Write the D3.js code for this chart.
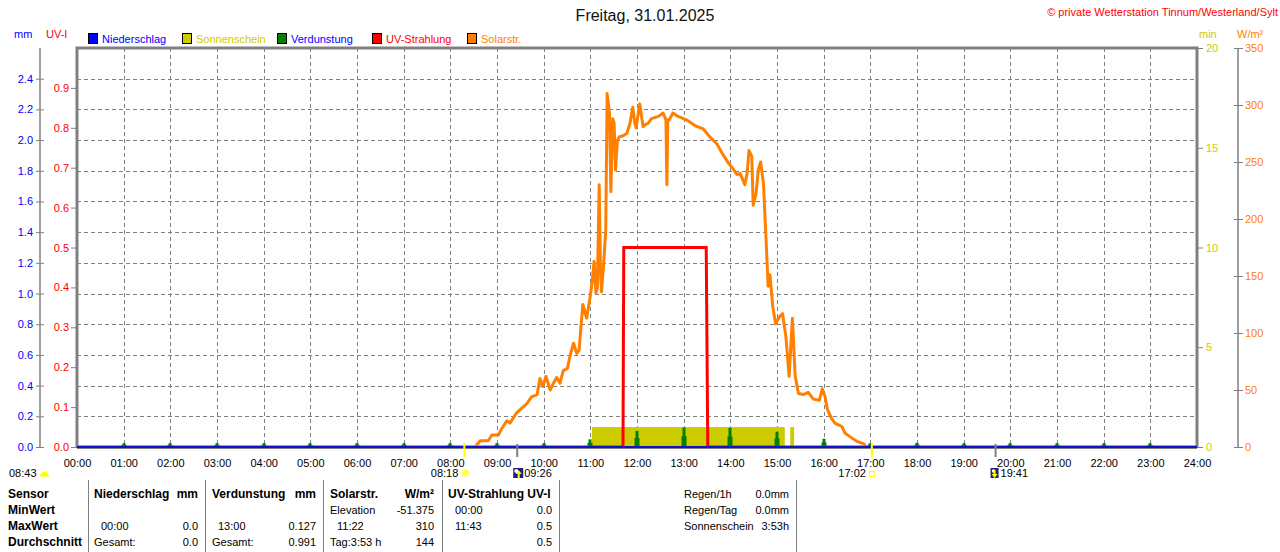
<!DOCTYPE html>
<html><head><meta charset="utf-8">
<script src="https://cdn.jsdelivr.net/npm/d3@7/dist/d3.min.js"></script>
<style>
body{margin:0;background:#fff;}
svg{display:block;font-family:"Liberation Sans",Arial,sans-serif;}
</style></head><body>
<svg id="c" width="1280" height="552"></svg>
<script>
// ---------- data ----------
const hourLabels = ["00:00","01:00","02:00","03:00","04:00","05:00","06:00","07:00","08:00","09:00","10:00","11:00","12:00","13:00","14:00","15:00","16:00","17:00","18:00","19:00","20:00","21:00","22:00","23:00","24:00"];
const mmTicks = [0.0,0.2,0.4,0.6,0.8,1.0,1.2,1.4,1.6,1.8,2.0,2.2,2.4];
const uvTicks = [0.0,0.1,0.2,0.3,0.4,0.5,0.6,0.7,0.8,0.9];
const minTicks = [0,5,10,15,20];
const wTicks = [0,50,100,150,200,250,300,350];

const rainTimes = ["00:00","24:00"];
const rainValues = [0.0,0.0];

const evapHours = [1,2,3,4,5,6,7,8,9,10,11,12,13,14,15,16,17,18,19,20,21,22,23];
const evapValues = [0.025,0.025,0.025,0.025,0.025,0.025,0.025,0.025,0.025,0.025,0.05,0.105,0.127,0.125,0.10,0.054,0.024,0.027,0.025,0.025,0.025,0.025,0.025];

const sunStart = ["11:02","15:17"];
const sunEnd = ["15:10","15:22"];
const sunValues = [1,1];

const uvTimes = ["00:00","11:42","11:43","13:29","13:30","13:31","24:00"];
const uvValues = [0,0,0.5,0.5,0.25,0,0];

const solarHours = [8.53,8.64,8.81,8.89,9.03,9.10,9.21,9.28,9.42,9.64,9.74,9.86,9.92,9.98,10.05,10.14,10.21,10.28,10.35,10.42,10.51,10.56,10.64,10.71,10.76,10.79,10.84,10.92,10.99,11.04,11.08,11.12,11.15,11.19,11.22,11.24,11.29,11.33,11.36,11.39,11.41,11.44,11.48,11.51,11.54,11.58,11.62,11.70,11.78,11.85,11.91,11.95,11.98,12.06,12.13,12.19,12.24,12.31,12.46,12.56,12.62,12.64,12.66,12.69,12.77,12.88,13.06,13.24,13.42,13.56,13.71,13.85,13.96,14.06,14.14,14.21,14.31,14.36,14.40,14.46,14.49,14.55,14.60,14.65,14.71,14.76,14.81,14.85,14.91,14.97,15.05,15.12,15.19,15.26,15.33,15.39,15.46,15.56,15.67,15.78,15.91,15.97,16.03,16.08,16.17,16.24,16.39,16.46,16.60,16.71,16.85,16.92];
const solarValues = [0,5.5,5.5,10.5,10.5,16,23,21,30,38,44,46,60,53,62,50,56,61,56,67,69,79,91,82,85,101,125,113,130,145,163,135,140,230,150,136,164,190,310,300,293,224,288,284,243,269,272,273,275,284,298,285,280,301,281,283,284,288,290,293,287,230,287,287,293,290,287,282,279,272,266,256,249,244,239,240,230,240,260,255,212,222,243,250,231,187,141,151,123,108,114,117,97,62,113,62,47,46,48,42,41,51,44,33,25,21,18,12,8,5,3,0];

const sunriseSet = ["08:18","17:02"];
const moonRiseSet = ["09:26","19:41"];
const dayLength = "08:43";

const tableRows = ["Sensor","MinWert","MaxWert","Durchschnitt"];

// ---------- layout ----------
const L=77, R=1197, T=48, B=447;
const tm = s => { const [h,m] = s.split(":").map(Number); return h + m/60; };
const svg = d3.select("#c");
const x = d3.scaleLinear().domain([0,24]).range([L,R]);
const yMM = d3.scaleLinear().domain([0,2.6]).range([B,T]);
const yUV = d3.scaleLinear().domain([0,1.0]).range([B,T]);
const yMin = d3.scaleLinear().domain([0,20]).range([B,T]);
const yW = d3.scaleLinear().domain([0,350]).range([B,T]);
const GRAY="#808080", BLUE="#0000ff", RED="#ff0000", YEL="#cccc00", GREEN="#008000", ORANGE="#ff8000";

svg.append("defs").append("clipPath").attr("id","plotclip")
  .append("rect").attr("x",L).attr("y",T).attr("width",R-L).attr("height",B-T-0.8);

// title & copyright
svg.append("text").attr("x",645).attr("y",21).attr("text-anchor","middle").attr("font-size",16).attr("fill","#111").text("Freitag, 31.01.2025");
svg.append("text").attr("x",1278).attr("y",15.5).attr("text-anchor","end").attr("font-size",11).attr("fill",RED).text("© private Wetterstation Tinnum/Westerland/Sylt");

// axis headers
svg.append("text").attr("x",14).attr("y",37.5).attr("font-size",11).attr("fill",BLUE).text("mm");
svg.append("text").attr("x",46).attr("y",37.5).attr("font-size",11).attr("fill",RED).text("UV-I");
svg.append("text").attr("x",1199).attr("y",37.5).attr("font-size",11).attr("fill",YEL).text("min");
svg.append("text").attr("x",1237).attr("y",37.5).attr("font-size",11).attr("fill",ORANGE).text("W/m²");

// legend
const legend = [
  {n:"Niederschlag", c:"#0000ff", t:BLUE, x:88},
  {n:"Sonnenschein", c:"#cccc00", t:YEL, x:182},
  {n:"Verdunstung", c:"#008000", t:BLUE, x:277},
  {n:"UV-Strahlung", c:"#ff0000", t:RED, x:372},
  {n:"Solarstr.", c:"#ff8000", t:ORANGE, x:467}
];
legend.forEach(d=>{
  svg.append("rect").attr("x",d.x+0.5).attr("y",33.5).attr("width",9).attr("height",10).attr("fill",d.c).attr("stroke","#000").attr("stroke-width",1);
  svg.append("text").attr("x",d.x+14).attr("y",43).attr("font-size",11).attr("fill",d.t).text(d.n);
});

// grid
const grid = svg.append("g").attr("stroke",GRAY).attr("stroke-width",1).attr("stroke-dasharray","4,3");
grid.selectAll("line.v").data(d3.range(1,24)).join("line")
  .attr("x1",d=>Math.round(x(d))+0.5).attr("x2",d=>Math.round(x(d))+0.5).attr("y1",T).attr("y2",B);
grid.selectAll("line.h").data(mmTicks.slice(1)).join("line").attr("class","h")
  .attr("x1",L).attr("x2",R).attr("y1",d=>Math.round(yMM(d))+0.5).attr("y2",d=>Math.round(yMM(d))+0.5);

// left mm axis
const axMM = d3.axisLeft(yMM).tickValues(mmTicks).tickFormat(d3.format(".1f")).tickSize(4).tickPadding(3);
const gMM = svg.append("g").attr("transform","translate(40,0)").call(axMM);
gMM.select(".domain").attr("stroke",GRAY).attr("stroke-width",1.5).attr("d",`M0,${T}V${B}`);
gMM.selectAll(".tick line").attr("stroke",GRAY).attr("x1",4).attr("x2",-4);
gMM.selectAll(".tick text").attr("fill",BLUE).attr("font-size",11).attr("font-family","Liberation Sans, Arial, sans-serif");

// UV axis
const axUV = d3.axisLeft(yUV).tickValues(uvTicks).tickFormat(d3.format(".1f")).tickSize(5).tickPadding(2);
const gUV = svg.append("g").attr("transform",`translate(${L-1},0)`).call(axUV);
gUV.select(".domain").remove();
gUV.selectAll(".tick line").attr("stroke",GRAY);
gUV.selectAll(".tick text").attr("fill",RED).attr("font-size",11).attr("font-family","Liberation Sans, Arial, sans-serif");

// right min axis
const axMin = d3.axisRight(yMin).tickValues(minTicks).tickFormat(d3.format("d")).tickSize(5).tickPadding(3);
const gMin = svg.append("g").attr("transform",`translate(${R+1},0)`).call(axMin);
gMin.select(".domain").remove();
gMin.selectAll(".tick line").attr("stroke",GRAY);
gMin.selectAll(".tick text").attr("fill",YEL).attr("font-size",11).attr("font-family","Liberation Sans, Arial, sans-serif");

// W/m2 axis
const axW = d3.axisRight(yW).tickValues(wTicks).tickFormat(d3.format("d")).tickSize(5).tickPadding(2);
const gW = svg.append("g").attr("transform","translate(1238,0)").call(axW);
gW.select(".domain").attr("stroke",GRAY).attr("stroke-width",1.5).attr("d",`M0,${T}V${B}`);
gW.selectAll(".tick line").attr("stroke",GRAY).attr("x1",-4).attr("x2",5);
gW.selectAll(".tick text").attr("fill",ORANGE).attr("font-size",11).attr("font-family","Liberation Sans, Arial, sans-serif");

// x axis labels
const axX = d3.axisBottom(x).tickValues(d3.range(0,25)).tickFormat((d,i)=>hourLabels[i]).tickSize(0).tickPadding(12);
const gX = svg.append("g").attr("transform",`translate(0,${B})`).call(axX);
gX.select(".domain").remove();
gX.selectAll(".tick text").attr("fill","#000").attr("font-size",11).attr("font-family","Liberation Sans, Arial, sans-serif");

// sunshine
svg.append("g").selectAll("rect").data(sunStart).join("rect")
  .attr("x",(d,i)=>x(tm(d))).attr("width",(d,i)=>x(tm(sunEnd[i]))-x(tm(d)))
  .attr("y",(d,i)=>yMin(sunValues[i])).attr("height",(d,i)=>B-yMin(sunValues[i]))
  .attr("fill",YEL);

// evaporation
const ge = svg.append("g").attr("fill",GREEN);
evapHours.forEach((h,i)=>{
  const cx = Math.round(x(h)), top = yMM(evapValues[i]), hh = B-top;
  ge.append("rect").attr("x",cx-1.5).attr("width",3).attr("y",top).attr("height",hh);
  ge.append("rect").attr("x",cx-2.5).attr("width",5).attr("y",top+hh*0.45).attr("height",hh*0.55);
});

// UV line
svg.append("path").datum(uvTimes.map((t,i)=>[tm(t),uvValues[i]]))
  .attr("clip-path","url(#plotclip)")
  .attr("d",d3.line().x(d=>x(d[0])).y(d=>yUV(d[1])))
  .attr("fill","none").attr("stroke",RED).attr("stroke-width",3);

// solar line
svg.append("path").datum(solarHours.map((t,i)=>[t,solarValues[i]]))
  .attr("clip-path","url(#plotclip)")
  .attr("d",d3.line().x(d=>x(d[0])).y(d=>yW(d[1])))
  .attr("fill","none").attr("stroke",ORANGE).attr("stroke-width",3).attr("stroke-linejoin","round");

// frame
svg.append("path").attr("d",`M${L},${B+1}V${T}H${R}V${B+1}`).attr("fill","none").attr("stroke",GRAY).attr("stroke-width",3);
svg.append("line").attr("x1",L).attr("x2",R).attr("y1",B+1.5).attr("y2",B+1.5).attr("stroke",GRAY).attr("stroke-width",1);

// rain baseline
svg.append("path").datum(rainTimes.map((t,i)=>[tm(t),rainValues[i]]))
  .attr("d",d3.line().x(d=>x(d[0])).y(d=>yMM(d[1])))
  .attr("fill","none").attr("stroke","#1010c8").attr("stroke-width",1.8);

// sun / moon markers
sunriseSet.forEach(t=>{
  svg.append("line").attr("x1",x(tm(t))).attr("x2",x(tm(t))).attr("y1",443).attr("y2",457).attr("stroke","#ffff00").attr("stroke-width",2);
});
moonRiseSet.forEach(t=>{
  svg.append("line").attr("x1",x(tm(t))).attr("x2",x(tm(t))).attr("y1",444).attr("y2",457).attr("stroke",GRAY).attr("stroke-width",2);
});
const fs = 11;
// day length
svg.append("text").attr("x",9).attr("y",477).attr("font-size",fs).text(dayLength);
svg.append("path").attr("d","M40,476.5 A4.5,5 0 0 1 49,476.5 Z").attr("fill","#ffff00");
// sunrise
const sr = x(tm(sunriseSet[0]));
svg.append("text").attr("x",sr-6).attr("y",477).attr("text-anchor","end").attr("font-size",fs).text(sunriseSet[0]);
const sunG = svg.append("g").attr("transform",`translate(${sr+1},473)`);
d3.range(8).forEach(k=>{ const a=k*Math.PI/4; sunG.append("line").attr("x1",Math.cos(a)*3).attr("y1",Math.sin(a)*3).attr("x2",Math.cos(a)*5).attr("y2",Math.sin(a)*5).attr("stroke","#ffff66").attr("stroke-width",1.2);});
sunG.append("circle").attr("r",3.2).attr("fill","#ffff40");
// moonrise
const mr = x(tm(moonRiseSet[0]));
svg.append("rect").attr("x",mr-4).attr("y",468).attr("width",10).attr("height",10).attr("fill","#202080");
svg.append("circle").attr("cx",mr-1).attr("cy",471).attr("r",2).attr("fill","#ffffff");
svg.append("path").attr("d",`M${mr+1.5},470 l-3,4 h2 v4 h2 v-4 h2 z`).attr("fill","#ffff00");
svg.append("text").attr("x",mr+7).attr("y",477).attr("font-size",fs).text(moonRiseSet[0]);
// sunset
const ss = x(tm(sunriseSet[1]));
svg.append("text").attr("x",ss-6).attr("y",477).attr("text-anchor","end").attr("font-size",fs).text(sunriseSet[1]);
svg.append("rect").attr("x",ss-2.5).attr("y",471.5).attr("width",5).attr("height",5).attr("fill","#fff").attr("stroke","#ffff00").attr("stroke-width",1);
// moonset
const ms = x(tm(moonRiseSet[1]));
svg.append("rect").attr("x",ms-5).attr("y",468).attr("width",8).attr("height",10).attr("fill","#202080");
svg.append("circle").attr("cx",ms-2).attr("cy",471).attr("r",1.8).attr("fill","#ffffff");
svg.append("path").attr("d",`M${ms-1},478 l-3,-4 h2 v-4 h2 v4 h2 z`).attr("fill","#ffff00");
svg.append("text").attr("x",ms+5).attr("y",477).attr("font-size",fs).text(moonRiseSet[1]);

// table
const rowY = [498,514,530,546];
const seps = [88,205,323,442,559,796];
seps.forEach(s=>svg.append("line").attr("x1",s+0.5).attr("x2",s+0.5).attr("y1",480).attr("y2",552).attr("stroke",GRAY).attr("stroke-width",1));
tableRows.forEach((r,i)=>svg.append("text").attr("x",8).attr("y",rowY[i]).attr("font-size",12).attr("font-weight","bold").text(r));
const cells = [
  [94,0,"Niederschlag","start",1],[198,0,"mm","end",1],
  [101,2,"00:00","start",0],[198,2,"0.0","end",0],
  [94,3,"Gesamt:","start",0],[198,3,"0.0","end",0],
  [212,0,"Verdunstung","start",1],[316,0,"mm","end",1],
  [218,2,"13:00","start",0],[316,2,"0.127","end",0],
  [212,3,"Gesamt:","start",0],[316,3,"0.991","end",0],
  [330,0,"Solarstr.","start",1],[434,0,"W/m²","end",1],
  [330,1,"Elevation","start",0],[434,1,"-51.375","end",0],
  [337,2,"11:22","start",0],[434,2,"310","end",0],
  [330,3,"Tag:3:53 h","start",0],[434,3,"144","end",0],
  [448,0,"UV-Strahlung UV-I","start",1],
  [455,1,"00:00","start",0],[552,1,"0.0","end",0],
  [455,2,"11:43","start",0],[552,2,"0.5","end",0],
  [552,3,"0.5","end",0],
  [684,0,"Regen/1h","start",0],[789,0,"0.0mm","end",0],
  [684,1,"Regen/Tag","start",0],[789,1,"0.0mm","end",0],
  [684,2,"Sonnenschein","start",0],[789,2,"3:53h","end",0]
];
cells.forEach(c=>svg.append("text").attr("x",c[0]).attr("y",rowY[c[1]]).attr("text-anchor",c[3])
  .attr("font-size",c[4]?12:11).attr("font-weight",c[4]?"bold":"normal").attr("fill","#000").text(c[2]));
</script>
</body></html>
